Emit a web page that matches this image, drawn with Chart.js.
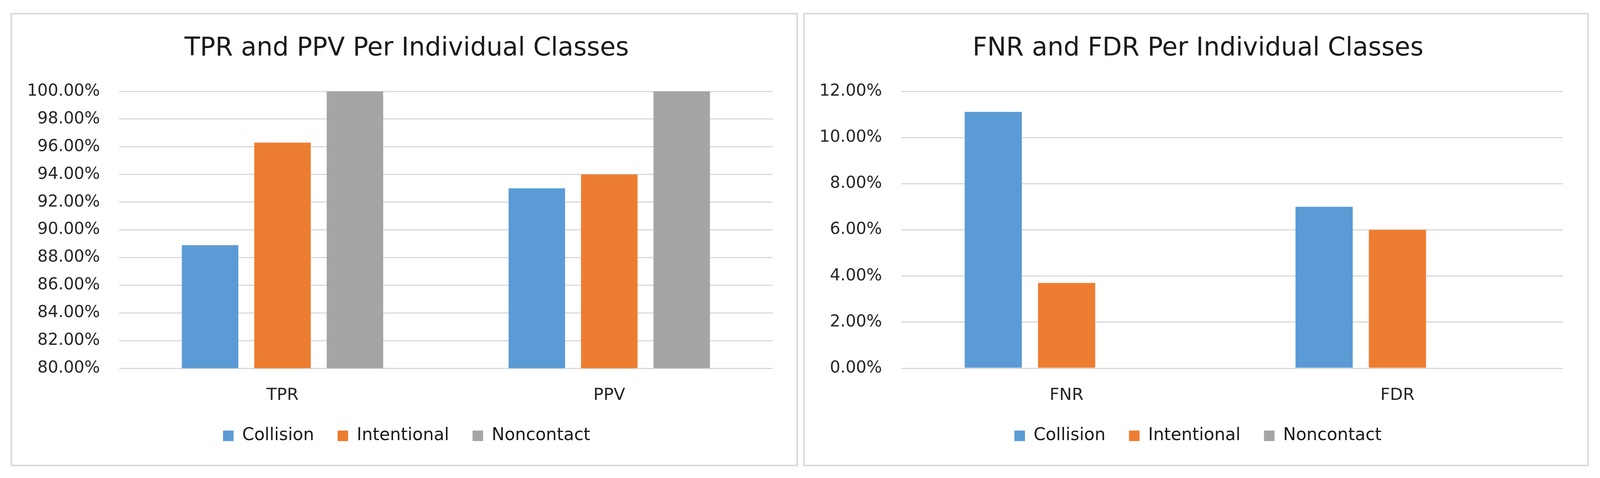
<!DOCTYPE html>
<html>
<head>
<meta charset="utf-8">
<script src="https://cdn.jsdelivr.net/npm/chart.js@4.4.1/dist/chart.umd.min.js"></script>
<style>
  html, body { margin: 0; padding: 0; background: #ffffff; }
  body { width: 4104px; height: 1224px; position: relative; overflow: hidden; }
  .panel { position: absolute; top: 33px; height: 1161px; border: 4px solid #d9d9d9; box-sizing: border-box; background: #ffffff; }
  #panel-left { left: 27px; width: 2016px; }
  #panel-right { left: 2056px; width: 2011px; }
  canvas { display: block; position: relative; }
</style>
</head>
<body>
<div class="panel" id="panel-left"><canvas id="chart-left" width="2020" height="1153"></canvas></div>
<div class="panel" id="panel-right"><canvas id="chart-right" width="2014" height="1153"></canvas></div>
<script>
// Class names and colours (legend order)
const classNames = ['Collision', 'Intentional', 'Noncontact'];
const classColors = ['#5b9bd5', '#ed7d31', '#a5a5a5'];

// Left chart: TPR / PPV in percent
const tprPpvCategories = ['TPR', 'PPV'];
const collisionTprPpv = [88.89, 93.0];
const intentionalTprPpv = [96.3, 94.0];
const noncontactTprPpv = [100, 100];
const tprPpvAxis = { min: 80, max: 100, step: 2 };

// Right chart: FNR / FDR in percent
const fnrFdrCategories = ['FNR', 'FDR'];
const collisionFnrFdr = [11.11, 7.0];
const intentionalFnrFdr = [3.7, 6.0];
const noncontactFnrFdr = [0, 0];
const fnrFdrAxis = { min: 0, max: 12, step: 2 };

const FONT = "'DejaVu Sans', sans-serif";

// Build the datasets for one chart
function makeDatasets(series) {
    return series.map((values, i) => ({
        label: classNames[i],
        data: values,
        backgroundColor: classColors[i],
        borderWidth: 0,
        categoryPercentage: 0.665,
        barPercentage: 0.78
    }));
}

// Create one bar chart panel
function createChart(canvasId, title, categories, series, axis, yAxisWidth, rightSpace) {
    const ctx = document.getElementById(canvasId).getContext('2d');
    return new Chart(ctx, {
        type: 'bar',
        data: {
            labels: categories,
            datasets: makeDatasets(series)
        },
        options: {
            responsive: false,
            animation: false,
            devicePixelRatio: 1,
            layout: {
                padding: { top: 0, left: 0, right: 0, bottom: 42 }
            },
            plugins: {
                title: {
                    display: true,
                    text: title,
                    color: '#1a1a1a',
                    font: { family: FONT, size: 65, weight: 'normal' },
                    padding: { top: 49, bottom: 70 }
                },
                legend: {
                    position: 'bottom',
                    labels: {
                        color: '#1a1a1a',
                        font: { family: FONT, size: 44 },
                        boxWidth: 27,
                        boxHeight: 27,
                        padding: 60
                    }
                },
                tooltip: { enabled: false }
            },
            scales: {
                x: {
                    afterFit: (scale) => { scale.height = 91; },
                    grid: { display: false, drawTicks: false },
                    border: { display: false },
                    ticks: {
                        color: '#262626',
                        font: { family: FONT, size: 43 },
                        padding: 44
                    }
                },
                y: {
                    min: axis.min,
                    max: axis.max,
                    afterFit: (scale) => { scale.width = yAxisWidth; },
                    grid: { color: '#d9d9d9', lineWidth: 3, drawTicks: false },
                    border: { display: false },
                    ticks: {
                        stepSize: axis.step,
                        color: '#262626',
                        font: { family: FONT, size: 42 },
                        padding: 49,
                        callback: (value) => value.toFixed(2) + '%'
                    }
                },
                // empty space on the right of the plot, like the Excel chart
                spacer: {
                    type: 'linear',
                    position: 'right',
                    afterFit: (scale) => { scale.width = rightSpace; },
                    grid: { display: false, drawTicks: false },
                    border: { display: false },
                    ticks: { display: false }
                }
            }
        }
    });
}

createChart('chart-left', 'TPR and PPV Per Individual Classes', tprPpvCategories,
    [collisionTprPpv, intentionalTprPpv, noncontactTprPpv], tprPpvAxis, 274, 73);

createChart('chart-right', 'FNR and FDR Per Individual Classes', fnrFdrCategories,
    [collisionFnrFdr, intentionalFnrFdr, noncontactFnrFdr], fnrFdrAxis, 247, 73);
</script>
</body>
</html>
